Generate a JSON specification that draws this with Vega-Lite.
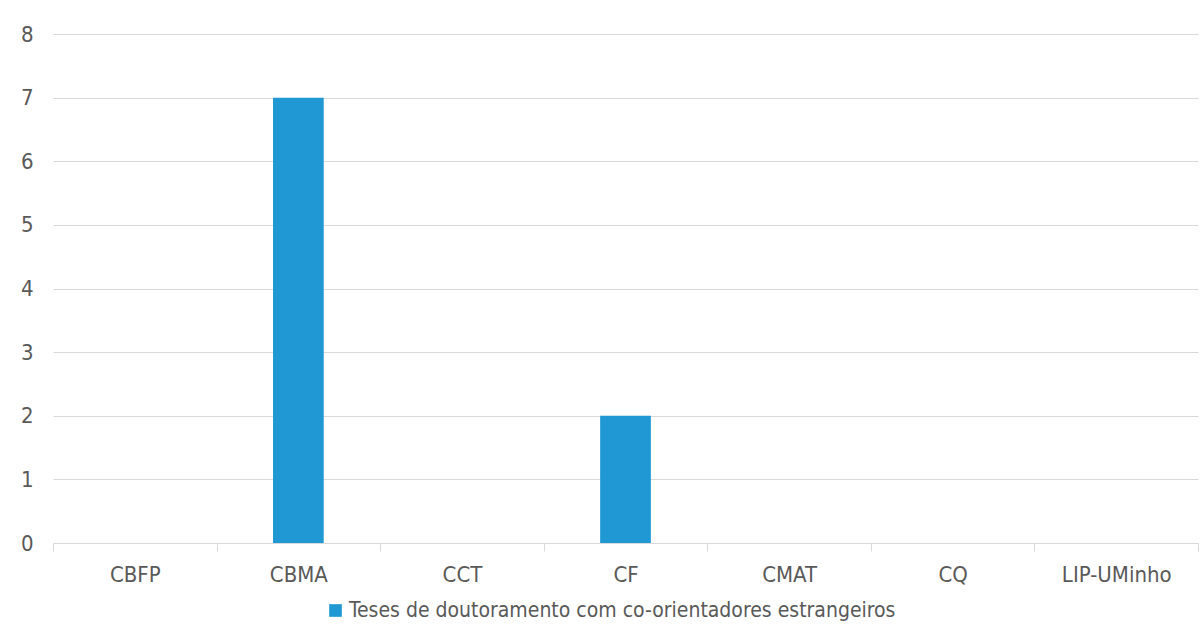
{
  "$schema": "https://vega.github.io/schema/vega-lite/v6.json",
  "width": 1145,
  "height": 509,
  "autosize": {"type": "none"},
  "padding": {"left": 53, "top": 34, "right": 2, "bottom": 87},
  "background": "white",
  "config": {
    "view": {"stroke": null},
    "font": "DejaVu Sans Condensed, Roboto, sans-serif"
  },
  "data": {
    "values": [
      {"unidade": "CBFP", "valor": 0, "serie": "Teses de doutoramento com co-orientadores estrangeiros"},
      {"unidade": "CBMA", "valor": 7, "serie": "Teses de doutoramento com co-orientadores estrangeiros"},
      {"unidade": "CCT", "valor": 0, "serie": "Teses de doutoramento com co-orientadores estrangeiros"},
      {"unidade": "CF", "valor": 2, "serie": "Teses de doutoramento com co-orientadores estrangeiros"},
      {"unidade": "CMAT", "valor": 0, "serie": "Teses de doutoramento com co-orientadores estrangeiros"},
      {"unidade": "CQ", "valor": 0, "serie": "Teses de doutoramento com co-orientadores estrangeiros"},
      {"unidade": "LIP-UMinho", "valor": 0, "serie": "Teses de doutoramento com co-orientadores estrangeiros"}
    ]
  },
  "mark": {"type": "bar", "width": {"band": 0.31}},
  "encoding": {
    "x": {
      "field": "unidade",
      "type": "nominal",
      "sort": null,
      "scale": {"paddingInner": 0, "paddingOuter": 0},
      "axis": {
        "title": null,
        "labelAngle": 0,
        "labelFontSize": 22,
        "labelColor": "#595959",
        "labelPadding": 13,
        "tickBand": "extent",
        "domainColor": "#d9d9d9",
        "tickColor": "#d9d9d9",
        "tickSize": 8,
        "grid": false
      }
    },
    "y": {
      "field": "valor",
      "type": "quantitative",
      "scale": {"domain": [0, 8], "nice": false},
      "axis": {
        "title": null,
        "values": [0, 1, 2, 3, 4, 5, 6, 7, 8],
        "labelOverlap": false,
        "domain": false,
        "ticks": false,
        "labelFontSize": 22,
        "labelColor": "#595959",
        "labelPadding": 20,
        "gridColor": "#d9d9d9"
      }
    },
    "color": {
      "field": "serie",
      "type": "nominal",
      "scale": {"range": ["#1F98D4"]},
      "legend": {
        "title": null,
        "orient": "none",
        "legendX": 272,
        "legendY": 566,
        "direction": "horizontal",
        "symbolType": "square",
        "symbolSize": 160,
        "symbolOffset": 0,
        "labelOffset": 3,
        "labelFontSize": 21,
        "labelColor": "#595959",
        "labelLimit": 800
      }
    }
  }
}
